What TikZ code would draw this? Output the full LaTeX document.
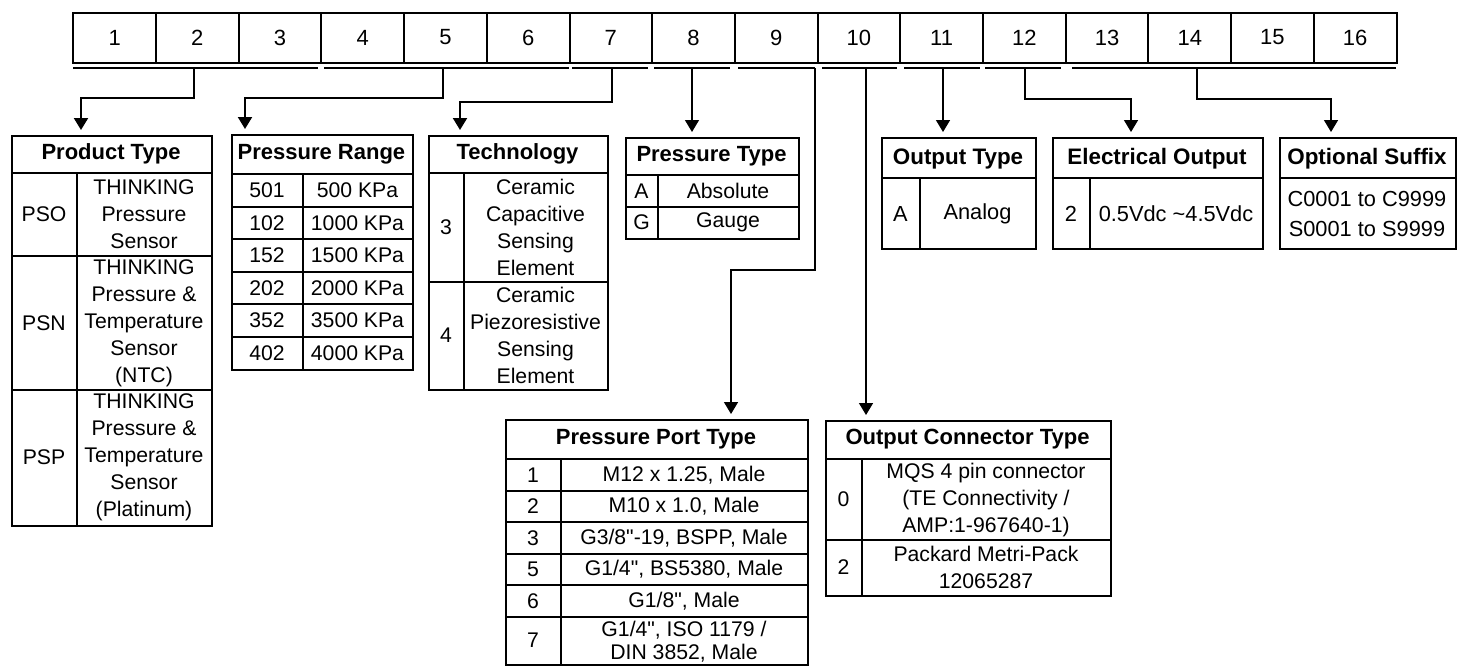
\documentclass[tikz,border=0pt]{standalone}
\usepackage{fontspec}
\setmainfont{Liberation Sans}[Ligatures=TeXOff]
\usetikzlibrary{arrows.meta}
\newcommand\tabfont{\fontsize{10.6}{13.5}\selectfont}
\newcommand\tightfont{\fontsize{10.6}{11.6}\selectfont}
\newcommand\hdrfont{\fontsize{11}{13.5}\selectfont\bfseries}
\newcommand\rtabfont{\fontsize{10.9}{15}\selectfont}
\newcommand\rhdrfont{\fontsize{11.2}{15}\selectfont\bfseries}
\newcommand\numfont{\fontsize{11}{13}\selectfont}
\tikzset{
  cell/.style={draw, line width=1pt, minimum width=41.35pt, minimum height=25pt, inner sep=0pt, font=\numfont},
  tbl/.style={draw, line width=1pt, inner sep=0pt, anchor=north west},
  grid/.style={line width=1pt},
  txt/.style={inner sep=0pt, align=center, font=\tabfont},
  hdr/.style={inner sep=0pt, align=center, font=\hdrfont},
  rtxt/.style={inner sep=0pt, align=center, font=\rtabfont},
  rhdr/.style={inner sep=0pt, align=center, font=\rhdrfont},
  uline/.style={line width=1pt},
  ulinethin/.style={line width=0.7pt},
  conn/.style={line width=1pt, -{Triangle[length=6pt,width=7pt]}, shorten >=2.5pt},
  connthin/.style={conn, line width=0.7pt}
}
\begin{document}
\begin{tikzpicture}[x=0.5pt,y=-0.5pt]
\useasboundingbox (0,0) rectangle (1460,666);
% top code row
\foreach \i in {1,...,16} \node[cell] (c\i) at ({73.3+82.7*(\i-0.5)},37.5) {\i};
% underlines
\draw[ulinethin] (73,68) -- (318,68);
\draw[uline] (324,68) -- (569,68);
\draw[uline] (572,68) -- (648,68);
\draw[uline] (654,68) -- (730,68);
\draw[uline] (822,68) -- (897,68);
\draw[uline] (904,68) -- (980,68);
\draw[uline] (985,68) -- (1061,68);
\draw[uline] (1072,68) -- (1396,68);
\coordinate (d1) at (194,68);
\coordinate (d2) at (443,68);
\coordinate (d3) at (612,68);
\coordinate (d4) at (692,68);
\coordinate (d5) at (815,68);
\coordinate (d6) at (866,68);
\coordinate (d7) at (943,68);
\coordinate (d8) at (1025,68);
\coordinate (d9) at (1197,68);
\draw[ulinethin] (738,68) -- (d5);

% ---------- Product Type
\node[tbl, minimum width=100pt, minimum height=195pt] (PT) at (11,135) {};
\draw[grid] (11,173) -- (211,173) (77,173) -- (77,525) (11,256) -- (211,256) (11,390) -- (211,390);
\node[hdr] (pth) at (111,154) {Product Type};
\node[txt] (pt1a) at (44,214.5) {PSO};
\node[txt] (pt1b) at (144,214.5) {THINKING\\Pressure\\Sensor};
\node[txt] (pt2a) at (44,323) {PSN};
\node[txt] (pt2b) at (144,323) {THINKING\\Pressure \&\\Temperature\\Sensor\\(NTC)};
\node[txt] (pt3a) at (44,457.5) {PSP};
\node[txt] (pt3b) at (144,457.5) {THINKING\\Pressure \&\\Temperature\\Sensor\\(Platinum)};

% ---------- Pressure Range
\node[tbl, minimum width=90.5pt, minimum height=117.5pt] (PR) at (231,134) {};
\draw[grid] (231,174) -- (412,174) (303,174) -- (303,369);
\foreach \y in {206.5,239,271.5,304,336.5} \draw[grid] (231,\y) -- (412,\y);
\node[hdr] (prh) at (321.5,154) {Pressure Range};
\node[txt] (pr1a) at (267,190.25) {501};  \node[txt] (pr1b) at (357.5,190.25) {500 KPa};
\node[txt] (pr2a) at (267,222.75) {102};  \node[txt] (pr2b) at (357.5,222.75) {1000 KPa};
\node[txt] (pr3a) at (267,255.25) {152};  \node[txt] (pr3b) at (357.5,255.25) {1500 KPa};
\node[txt] (pr4a) at (267,287.75) {202};  \node[txt] (pr4b) at (357.5,287.75) {2000 KPa};
\node[txt] (pr5a) at (267,320.25) {352};  \node[txt] (pr5b) at (357.5,320.25) {3500 KPa};
\node[txt] (pr6a) at (267,352.75) {402};  \node[txt] (pr6b) at (357.5,352.75) {4000 KPa};

% ---------- Technology
\node[tbl, minimum width=89.5pt, minimum height=127pt] (TE) at (428,135) {};
\draw[grid] (428,173) -- (607,173) (464,173) -- (464,389) (428,282) -- (607,282);
\node[hdr] (teh) at (517.5,154) {Technology};
\node[txt] (te1a) at (446,227.5) {3};
\node[txt] (te1b) at (535.5,227.5) {Ceramic\\Capacitive\\Sensing\\Element};
\node[txt] (te2a) at (446,335.5) {4};
\node[txt] (te2b) at (535.5,335.5) {Ceramic\\Piezoresistive\\Sensing\\Element};

% ---------- Pressure Type
\node[tbl, minimum width=86.5pt, minimum height=50.5pt] (PY) at (625,137) {};
\draw[grid] (625,175) -- (798,175) (658,175) -- (658,238) (625,207) -- (798,207);
\node[hdr] (pyh) at (711.5,156) {Pressure Type};
\node[txt] (py1a) at (641.5,191) {A}; \node[txt] (py1b) at (728,191) {Absolute};
\node[txt] (py2a) at (641.5,222.5) {G}; \node[txt] (py2b) at (728,222.5) {Gauge};

% ---------- Output Type
\node[tbl, minimum width=77pt, minimum height=55.5pt] (OT) at (881,137) {};
\draw[grid] (881,178) -- (1035,178) (920,178) -- (920,248);
\node[rhdr] (oth) at (958,158.5) {Output Type};
\node[rtxt] (ot1a) at (900.5,214) {A}; \node[rtxt] (ot1b) at (977.5,214) {Analog};

% ---------- Electrical Output
\node[tbl, minimum width=105pt, minimum height=55.5pt] (EO) at (1052,137) {};
\draw[grid] (1052,178) -- (1262,178) (1090,178) -- (1090,248);
\node[rhdr] (eoh) at (1157,158.5) {Electrical Output};
\node[rtxt] (eo1a) at (1071,214) {2}; \node[rtxt] (eo1b) at (1176,214) {0.5Vdc \textasciitilde4.5Vdc};

% ---------- Optional Suffix
\node[tbl, minimum width=88pt, minimum height=55.5pt] (OS) at (1279,137) {};
\draw[grid] (1279,178) -- (1455,178);
\node[rhdr] (osh) at (1367,158.5) {Optional Suffix};
\node[rtxt] (os1) at (1367,214) {C0001 to C9999\\S0001 to S9999};

% ---------- Pressure Port Type
\node[tbl, minimum width=151pt, minimum height=122.5pt] (PP) at (505,419) {};
\draw[grid] (505,459) -- (807,459) (561,459) -- (561,664);
\foreach \y in {490.6,522.2,553.8,585.4,617} \draw[grid] (505,\y) -- (807,\y);
\node[hdr] (pph) at (656,439) {Pressure Port Type};
\node[txt] (pp1a) at (533,474.8) {1}; \node[txt] (pp1b) at (684,474.8) {M12 x 1.25, Male};
\node[txt] (pp2a) at (533,506.4) {2}; \node[txt] (pp2b) at (684,506.4) {M10 x 1.0, Male};
\node[txt] (pp3a) at (533,538) {3}; \node[txt] (pp3b) at (684,538) {G3/8"-19, BSPP, Male};
\node[txt] (pp4a) at (533,569.6) {5}; \node[txt] (pp4b) at (684,569.6) {G1/4", BS5380, Male};
\node[txt] (pp5a) at (533,601.2) {6}; \node[txt] (pp5b) at (684,601.2) {G1/8", Male};
\node[txt] (pp6a) at (533,640.5) {7}; \node[txt, font=\tightfont] (pp6b) at (684,642) {G1/4", ISO 1179 /\\DIN 3852, Male};

% ---------- Output Connector Type
\node[tbl, minimum width=142.5pt, minimum height=87.5pt] (OC) at (825,420) {};
\draw[grid] (825,459) -- (1110,459) (862,459) -- (862,595) (825,540) -- (1110,540);
\node[hdr] (och) at (967.5,439.5) {Output Connector Type};
\node[txt] (oc1a) at (843.5,499.5) {0}; \node[txt] (oc1b) at (986,499.5) {MQS 4 pin connector\\(TE Connectivity /\\AMP:1-967640-1)};
\node[txt] (oc2a) at (843.5,567.5) {2}; \node[txt] (oc2b) at (986,567.5) {Packard Metri-Pack\\12065287};

% ---------- connectors
\draw[conn] (d1) -- ++(0,30) -| ([xshift=35pt]PT.north west);
\draw[conn] (d2) -- ++(0,30) -| ([xshift=7pt]PR.north west);
\draw[conn] (d3) -- ++(0,33.5) -| ([xshift=16pt]TE.north west);
\draw[connthin] (d4) -- (d4 |- PY.north);
\draw[connthin] (d5) -- ++(0,202) -| ([xshift=113pt]PP.north west);
\draw[connthin] (d6) -- (d6 |- OC.north);
\draw[connthin] (d7) -- (d7 |- OT.north);
\draw[connthin] (d8) -- ++(0,31) -| ([xshift=39.5pt]EO.north west);
\draw[connthin] (d9) -- ++(0,31) -| ([xshift=26pt]OS.north west);
\end{tikzpicture}
\end{document}
